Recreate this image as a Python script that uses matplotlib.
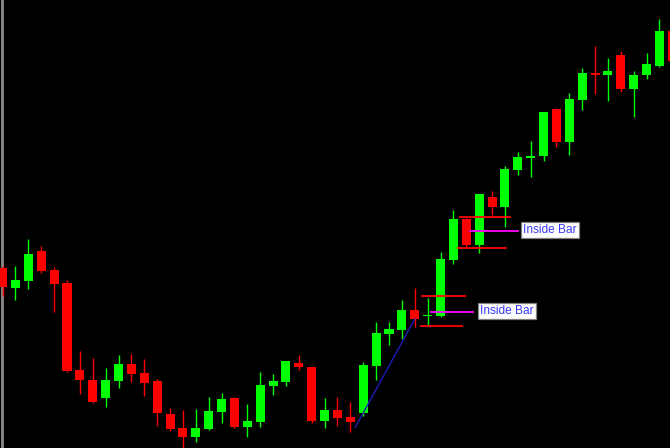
import numpy as np
import matplotlib.pyplot as plt

# OHLC values (arbitrary price units)
opens = [180, 160, 167, 197, 178, 165, 78, 68, 50, 67,
         84, 75, 67, 34, 20, 11, 19, 36, 50, 21,
         26, 62, 66, 85, 81, 27, 38, 31, 35, 82,
         114, 118, 138, 132, 132, 188, 229, 203, 251, 241,
         278, 290, 292, 339, 306, 348, 375, 373, 393, 359,
         373, 382, 417]
highs = [182, 182, 209, 202, 181, 168, 97, 90, 80, 93,
         94, 89, 69, 40, 38, 39, 51, 55, 51, 44,
         76, 74, 87, 93, 81, 50, 51, 46, 86, 126,
         126, 148, 160, 150, 196, 238, 230, 254, 257, 282,
         296, 307, 336, 340, 355, 380, 402, 390, 397, 377,
         395, 429, 420]
lows = [152, 148, 159, 175, 136, 76, 54, 45, 41, 60,
        66, 52, 22, 17, -3, 6, 18, 25, 20, 11,
        21, 53, 62, 78, 25, 20, 22, 16, 32, 68,
        103, 109, 121, 123, 131, 184, 201, 195, 233, 221,
        273, 271, 287, 301, 293, 338, 354, 347, 356, 331,
        369, 381, 385]
closes = [161, 168, 194, 177, 164, 77, 68, 46, 68, 84,
          74, 65, 35, 19, 11, 20, 37, 49, 21, 27,
          63, 67, 87, 81, 27, 38, 30, 26, 83, 115,
          119, 138, 129, 133, 189, 229, 203, 254, 241, 279,
          291, 292, 336, 306, 349, 375, 373, 377, 359, 373,
          384, 417, 387]

# inside bar markers: bar index, high / low / mid levels
ib_index = [33, 36]
ib_high = [152, 231]
ib_low = [122, 200]
ib_mid = [136, 217]
ib_label = ["Inside Bar", "Inside Bar"]

# trend line
trend_x = [27.4, 32.0]
trend_y = [21, 129]

BULL = "#00ff00"
BEAR = "#ff0000"

fig = plt.figure(figsize=(6.7, 4.48), dpi=100, facecolor="black")
ax = fig.add_axes([0, 0, 1, 1])
ax.set_facecolor("black")

# left border line
ax.axvline(-0.04, color="#8a8a8a", lw=2.0, zorder=0)

x = np.arange(len(opens))
for i in x:
    o, h, l, c = opens[i], highs[i], lows[i], closes[i]
    col = BULL if c >= o else BEAR
    ax.vlines(i, l, h, color=col, lw=1.0, zorder=2)
    bottom = min(o, c)
    height = abs(c - o)
    if height < 1.5:
        bottom = (o + c) / 2 - 0.75
        height = 1.5
    ax.bar(i, height, bottom=bottom, width=0.7, color=col, linewidth=0, zorder=3)

# trend line
ax.plot(trend_x, trend_y, color="#1c1cb4", lw=1.0, zorder=4)

# inside bar annotations
extents = [((32.46, 35.98), (32.40, 35.75), (33.16, 36.62), 36.99),
           ((35.41, 39.45), (35.28, 39.16), (36.20, 40.10), 40.35)]
for k in range(len(ib_index)):
    top_ext, bot_ext, mid_ext, lab_x = extents[k]
    ax.hlines(ib_high[k], *top_ext, color=BEAR, lw=1.3, zorder=5)
    ax.hlines(ib_low[k], *bot_ext, color=BEAR, lw=1.3, zorder=5)
    ax.hlines(ib_mid[k], *mid_ext, color="#ff00ff", lw=1.3, zorder=5)
    ax.text(lab_x + 0.08, ib_mid[k] + 1, ib_label[k], color="#3a3aff",
            fontsize=8.6, family="Liberation Sans", va="center", ha="left",
            bbox=dict(boxstyle="square,pad=0.2", fc="white", ec="#808080", lw=0.9),
            zorder=6)

ax.set_xlim(-0.2019, 51.817)
ax.set_ylim(0, 448)
ax.axis("off")

fig.savefig("out.png", dpi=100, facecolor="black")
